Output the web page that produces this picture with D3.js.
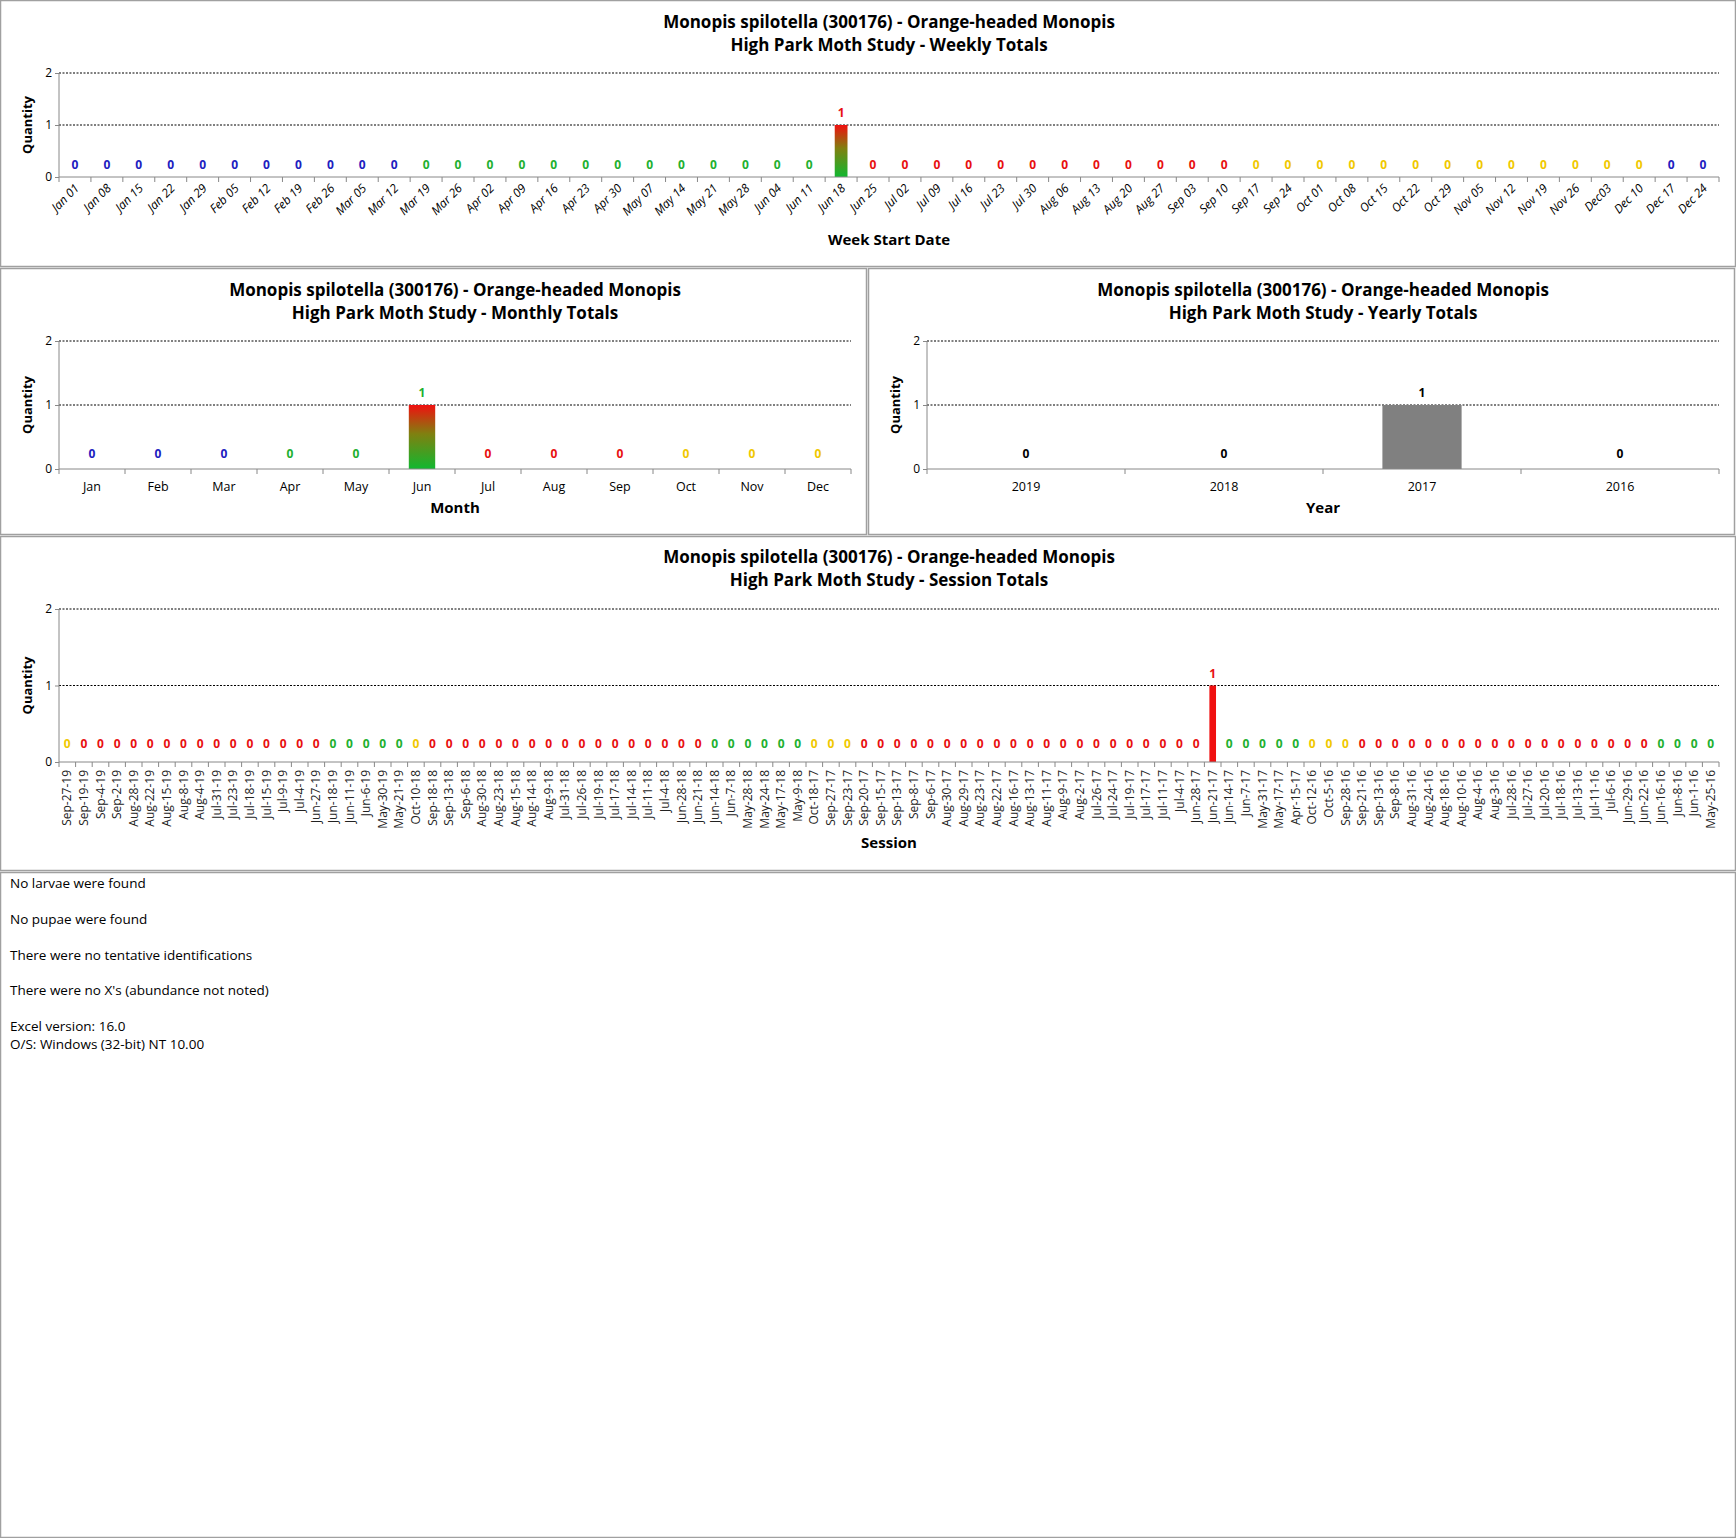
<!DOCTYPE html>
<html><head><meta charset="utf-8">
<script src="https://cdn.jsdelivr.net/npm/d3@7"></script>
<style>
body{margin:0;background:#fff;}
text{font-family:"Liberation Sans Narrow","Open Sans",sans-serif;}
</style></head><body>
<script>
const title1 = 'Monopis spilotella (300176)  - Orange-headed Monopis';
const weeks = ['Jan 01','Jan 08','Jan 15','Jan 22','Jan 29','Feb 05','Feb 12','Feb 19','Feb 26','Mar 05','Mar 12','Mar 19','Mar 26','Apr 02','Apr 09','Apr 16','Apr 23','Apr 30','May 07','May 14','May 21','May 28','Jun 04','Jun 11','Jun 18','Jun 25','Jul 02','Jul 09','Jul 16','Jul 23','Jul 30','Aug 06','Aug 13','Aug 20','Aug 27','Sep 03','Sep 10','Sep 17','Sep 24','Oct 01','Oct 08','Oct 15','Oct 22','Oct 29','Nov 05','Nov 12','Nov 19','Nov 26','Dec03','Dec 10','Dec 17','Dec 24'];
const weekValues = weeks.map(w => w === 'Jun 18' ? 1 : 0);
// season of each week label: b=winter, g=spring, r=summer, y=fall
const weekSeason = 'bbbbbbbbbbbggggggggggggggrrrrrrrrrrrryyyyyyyyyyyyybb'.split('');
weekSeason[24] = 'r';
const months = ['Jan','Feb','Mar','Apr','May','Jun','Jul','Aug','Sep','Oct','Nov','Dec'];
const monthValues = [0,0,0,0,0,1,0,0,0,0,0,0];
const monthSeason = ['b','b','b','g','g','g','r','r','r','y','y','y'];
const years = ['2019','2018','2017','2016'];
const yearValues = [0,0,1,0];
const sessions = ['Sep-27-19','Sep-19-19','Sep-4-19','Sep-2-19','Aug-28-19','Aug-22-19','Aug-15-19','Aug-8-19','Aug-4-19','Jul-31-19','Jul-23-19','Jul-18-19','Jul-15-19','Jul-9-19','Jul-4-19','Jun-27-19','Jun-18-19','Jun-11-19','Jun-6-19','May-30-19','May-21-19',
'Oct-10-18','Sep-18-18','Sep-13-18','Sep-6-18','Aug-30-18','Aug-23-18','Aug-15-18','Aug-14-18','Aug-9-18','Jul-31-18','Jul-26-18','Jul-19-18','Jul-17-18','Jul-14-18','Jul-11-18','Jul-4-18','Jun-28-18','Jun-21-18','Jun-14-18','Jun-7-18','May-28-18','May-24-18','May-17-18','May-9-18',
'Oct-18-17','Sep-27-17','Sep-23-17','Sep-20-17','Sep-15-17','Sep-13-17','Sep-8-17','Sep-6-17','Aug-30-17','Aug-29-17','Aug-23-17','Aug-22-17','Aug-16-17','Aug-13-17','Aug-11-17','Aug-9-17','Aug-2-17','Jul-26-17','Jul-24-17','Jul-19-17','Jul-17-17','Jul-11-17','Jul-4-17','Jun-28-17','Jun-21-17','Jun-14-17','Jun-7-17','May-31-17','May-17-17','Apr-15-17',
'Oct-12-16','Oct-5-16','Sep-28-16','Sep-21-16','Sep-13-16','Sep-8-16','Aug-31-16','Aug-24-16','Aug-18-16','Aug-10-16','Aug-4-16','Aug-3-16','Jul-28-16','Jul-27-16','Jul-20-16','Jul-18-16','Jul-13-16','Jul-11-16','Jul-6-16','Jun-29-16','Jun-22-16','Jun-16-16','Jun-8-16','Jun-1-16','May-25-16'];
const sessionValues = sessions.map(s => s === 'Jun-21-17' ? 1 : 0);
const notes = ['No larvae were found','No pupae were found','There were no tentative identifications',"There were no X's (abundance not noted)",'Excel version: 16.0','O/S: Windows (32-bit) NT 10.00'];

const colors = {b:'#2020c0', g:'#22b030', r:'#e81010', y:'#f0c800', k:'#000'};
const mIdx = {Jan:0,Feb:1,Mar:2,Apr:3,May:4,Jun:5,Jul:6,Aug:7,Sep:8,Oct:9,Nov:10,Dec:11};
function sessionSeason(s) {
  const p = s.split('-'); const v = mIdx[p[0]] * 100 + (+p[1]);
  if (v >= 220 && v < 521) return 'g';
  if (v >= 521 && v < 822) return 'r';
  if (v >= 822 && v < 1121) return 'y';
  return 'b';
}

const svg = d3.select('body').append('svg').attr('width', 1736).attr('height', 1538);
const defs = svg.append('defs');
const grad = defs.append('linearGradient').attr('id', 'rg').attr('x1', 0).attr('y1', 0).attr('x2', 0).attr('y2', 1);
grad.append('stop').attr('offset', '0%').attr('stop-color', '#f01010');
grad.append('stop').attr('offset', '45%').attr('stop-color', '#808010');
grad.append('stop').attr('offset', '100%').attr('stop-color', '#10b830');

// panel frames
[[0.5,0.5,1735,266],[0.5,268.5,866,266],[868.5,268.5,866,266],[0.5,536.5,1735,334],[0.5,872.5,1735,665]].forEach(r => {
  svg.append('rect').attr('x', r[0]).attr('y', r[1]).attr('width', r[2]).attr('height', r[3])
    .attr('fill', 'none').attr('stroke', '#a0a0a0').attr('stroke-width', 1.5);
});

function chart(o) {
  const g = svg.append('g');
  const x = d3.scaleBand().domain(o.cats).range([o.x0, o.x1]).paddingInner(0.6).paddingOuter(0.3);
  const y = d3.scaleLinear().domain([0, 2]).range([o.y0, o.y1]);
  const cx = (o.x0 + o.x1) / 2;
  g.append('text').attr('x', cx).attr('y', o.ty).attr('text-anchor', 'middle').attr('font-size', 17).attr('font-weight', 'bold').text(title1);
  g.append('text').attr('x', cx).attr('y', o.ty + 23).attr('text-anchor', 'middle').attr('font-size', 17).attr('font-weight', 'bold').text('High Park Moth Study  -  ' + o.sub);
  // grid
  [1, 2].forEach(v => g.append('line').attr('x1', o.x0).attr('x2', o.x1).attr('y1', y(v)).attr('y2', y(v))
    .attr('stroke', '#000').attr('stroke-dasharray', '2,1.5').attr('stroke-width', 1));
  g.append('line').attr('x1', o.x0).attr('x2', o.x0).attr('y1', o.y0).attr('y2', o.y1).attr('stroke', '#888');
  // y axis
  g.append('g').attr('transform', `translate(${o.x0},0)`).call(d3.axisLeft(y).ticks(2).tickSize(4).tickFormat(d3.format('d')))
    .call(a => { a.select('.domain').remove(); a.selectAll('line').attr('stroke', '#888'); a.selectAll('text').attr('font-size', 12).attr('font-family', 'DejaVu Sans'); });
  g.append('text').attr('transform', `translate(${o.x0 - 27},${(o.y0 + o.y1) / 2}) rotate(-90)`).attr('text-anchor', 'middle')
    .attr('font-family', 'DejaVu Sans').attr('font-weight', 'bold').attr('font-size', 13).text('Quantity');
  // bars
  g.selectAll('rect.bar').data(o.vals).enter().append('rect')
    .attr('x', (d, i) => x(o.cats[i])).attr('width', x.bandwidth())
    .attr('y', d => y(d)).attr('height', d => o.y0 - y(d)).attr('fill', o.fill);
  // value labels
  g.selectAll('text.val').data(o.vals).enter().append('text')
    .attr('x', (d, i) => x(o.cats[i]) + x.bandwidth() / 2)
    .attr('y', d => d > 0 ? y(d) - 8 : y(0.25) + 5)
    .attr('text-anchor', 'middle').attr('font-size', 12).attr('font-weight', 'bold')
    .attr('font-family', 'DejaVu Sans')
    .attr('fill', (d, i) => colors[o.labCol(i, d)]).text(d => d);
  // x axis with ticks between categories
  const step = x.step();
  g.append('line').attr('x1', o.x0).attr('x2', o.x1).attr('y1', o.y0).attr('y2', o.y0).attr('stroke', '#888');
  d3.range(o.cats.length + 1).forEach(i => {
    const tx = o.x0 + step * 0.3 + (i - 0.3) * step + (i === 0 ? 0 : 0);
  });
  const edges = o.cats.map(c => x(c) - step * 0.3).concat([o.x1]);
  edges.forEach(e => g.append('line').attr('x1', e).attr('x2', e).attr('y1', o.y0).attr('y2', o.y0 + 5).attr('stroke', '#888'));
  o.cats.forEach((c, i) => {
    const lx = x(c) + x.bandwidth() / 2;
    if (o.rot === 45) {
      g.append('text').attr('transform', `translate(${lx + 5},${o.y0 + 12}) rotate(-45)`).attr('text-anchor', 'end')
        .attr('font-size', 12).attr('font-style', 'italic').text(c);
    } else if (o.rot === 90) {
      g.append('text').attr('transform', `translate(${lx + 4},${o.y0 + 8}) rotate(-90)`).attr('text-anchor', 'end')
        .attr('font-size', 12).attr('fill', '#222').text(c);
    } else {
      g.append('text').attr('x', lx).attr('y', o.y0 + 22).attr('text-anchor', 'middle').attr('font-size', 12.5).text(c);
    }
  });
  g.append('text').attr('x', cx).attr('y', o.xty).attr('text-anchor', 'middle').attr('font-size', 15).attr('font-weight', 'bold').text(o.xt);
}

chart({cats: weeks, vals: weekValues, x0: 59, x1: 1719, y0: 177, y1: 73, ty: 28, sub: 'Weekly Totals', xt: 'Week Start Date', xty: 245, rot: 45,
  fill: 'url(#rg)', labCol: i => weekSeason[i]});
chart({cats: months, vals: monthValues, x0: 59, x1: 851, y0: 469, y1: 341, ty: 296, sub: 'Monthly Totals', xt: 'Month', xty: 513, rot: 0,
  fill: 'url(#rg)', labCol: i => monthSeason[i]});
chart({cats: years, vals: yearValues, x0: 927, x1: 1719, y0: 469, y1: 341, ty: 296, sub: 'Yearly Totals', xt: 'Year', xty: 513, rot: 0,
  fill: '#808080', labCol: () => 'k'});
chart({cats: sessions, vals: sessionValues, x0: 59, x1: 1719, y0: 762, y1: 609, ty: 563, sub: 'Session Totals', xt: 'Session', xty: 848, rot: 90,
  fill: '#f01010', labCol: i => sessionSeason(sessions[i])});

svg.selectAll('text.note').data(notes).enter().append('text')
  .attr('x', 10).attr('y', (d, i) => [888, 924, 960, 995, 1031, 1049][i])
  .attr('font-size', 13.5).text(d => d);
</script>
</body></html>
